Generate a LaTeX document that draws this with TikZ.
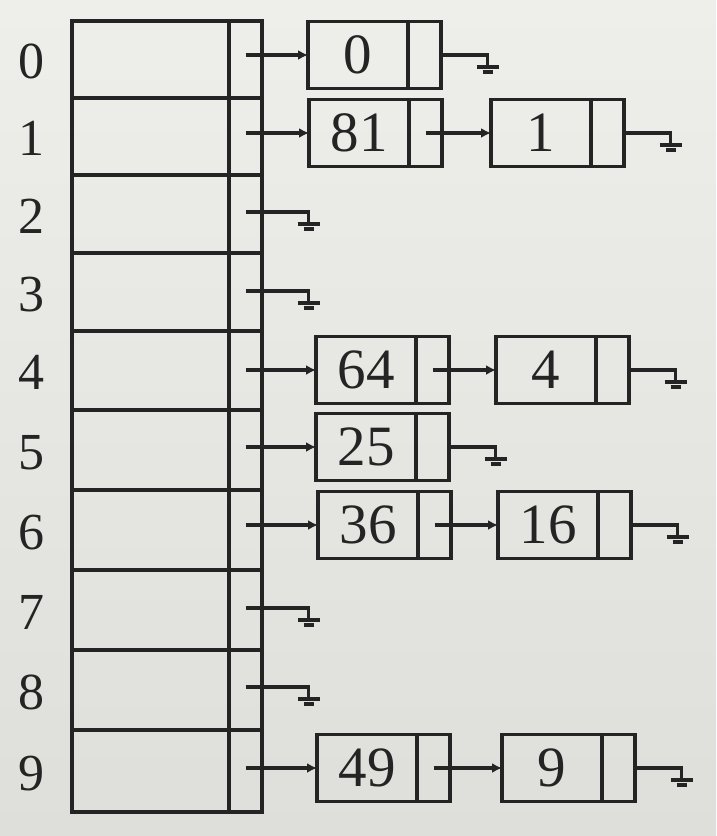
\documentclass[tikz,border=0pt]{standalone}
\usepackage{fontspec}
\setmainfont{Liberation Serif}
\usetikzlibrary{arrows.meta,calc}
\definecolor{ink}{RGB}{36,36,36}
\definecolor{papertop}{RGB}{238,238,234}
\definecolor{paperbot}{RGB}{222,222,218}
\begin{document}
\begin{tikzpicture}[x=1pt,y=-1pt,
  every node/.style={inner sep=0pt,outer sep=0pt},
  tline/.style={draw=ink,line width=3.6pt},
  keycell/.style={tline,minimum width=157pt,anchor=north west},
  tptr/.style={tline,minimum width=33pt,anchor=north west},
  idx/.style={font=\fontsize{52}{60}\selectfont,text=ink,anchor=base},
  datacell/.style={tline,minimum width=100pt,minimum height=67pt,font=\fontsize{57}{66}\selectfont,text=ink},
  ptrcell/.style={tline,minimum width=33pt,minimum height=67pt,anchor=west},
  link/.style={draw=ink,line width=3.6pt,-{Latex[length=10pt,width=10pt]}},
  nil/.style={draw=ink,line width=3.6pt},
  nilbar/.style={draw=ink,line width=4.5pt}
]
\useasboundingbox (0,0) rectangle (716,836);
\shade[top color=papertop,bottom color=paperbot] (0,0) rectangle (716,836);

% hash table
\foreach \i/\t/\b/\p in {0/21/98/55,1/98/175/133,2/175/253/212,3/253/331/291,4/331/410/370,5/410/490/447,6/490/570/525,7/570/650/608,8/650/730/687,9/730/812/768}{
  \pgfmathsetmacro\h{\b-\t}
  \pgfmathsetmacro\c{(\t+\b)/2+19}
  \node[keycell,minimum height=\h pt] (k\i) at (72,\t) {};
  \node[tptr,minimum height=\h pt] (t\i) at (229,\t) {};
  \coordinate (s\i) at (245.5,\p);
  \node[idx] (n\i) at (31,\c) {\i};
}

% list nodes
\node[datacell] (d0) at (358,55) {0};   \node[ptrcell] (q0) at (d0.east) {};
\node[datacell] (d81) at (359,133) {81}; \node[ptrcell] (q81) at (d81.east) {};
\node[datacell] (d1) at (541,133) {1};   \node[ptrcell] (q1) at (d1.east) {};
\node[datacell] (d64) at (366,370) {64}; \node[ptrcell] (q64) at (d64.east) {};
\node[datacell] (d4) at (546,370) {4};   \node[ptrcell] (q4) at (d4.east) {};
\node[datacell] (d25) at (366,447) {25}; \node[ptrcell] (q25) at (d25.east) {};
\node[datacell] (d36) at (368,525) {36}; \node[ptrcell] (q36) at (d36.east) {};
\node[datacell] (d16) at (548,525) {16}; \node[ptrcell] (q16) at (d16.east) {};
\node[datacell] (d49) at (367,768) {49}; \node[ptrcell] (q49) at (d49.east) {};
\node[datacell] (d9) at (552,768) {9};   \node[ptrcell] (q9) at (d9.east) {};

% links
\draw[link] (s0) -- (s0 -| d0.west);
\draw[link] (s1) -- (s1 -| d81.west);
\draw[link] (q81.center) -- (q81.center -| d1.west);
\draw[link] (s4) -- (s4 -| d64.west);
\draw[link] (q64.center) -- (q64.center -| d4.west);
\draw[link] (s5) -- (s5 -| d25.west);
\draw[link] (s6) -- (s6 -| d36.west);
\draw[link] (q36.center) -- (q36.center -| d16.west);
\draw[link] (s9) -- (s9 -| d49.west);
\draw[link] (q49.center) -- (q49.center -| d9.west);

% null pointers
\foreach \a in {q0,q1,s2,s3,q4,q25,s7,s8,q16,q9}{
  \draw[nil] (\a) -- ++(63,0) -- ++(0,12) coordinate (e\a);
  \draw[nilbar] ($(e\a)+(-11,0)$) -- ($(e\a)+(11,0)$);
  \draw[nilbar] ($(e\a)+(-5,5)$) -- ($(e\a)+(5,5)$);
}
\end{tikzpicture}
\end{document}
